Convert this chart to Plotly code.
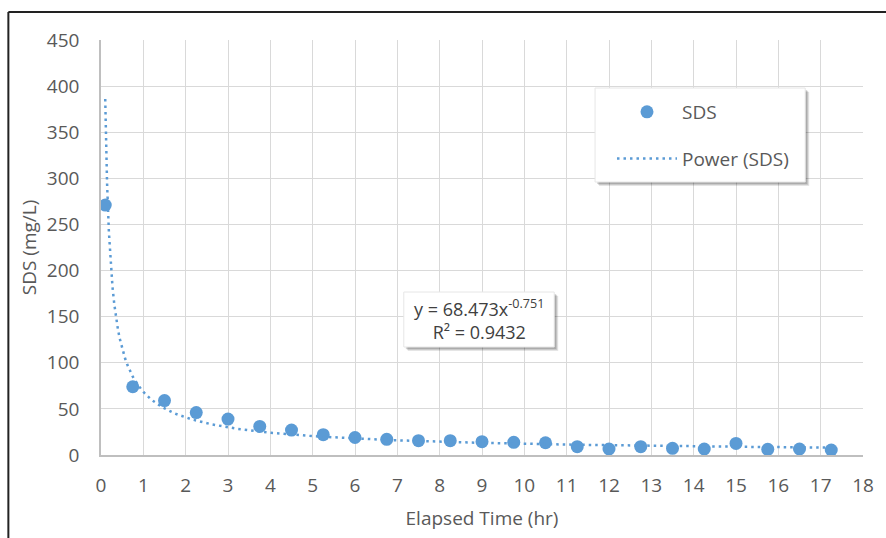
import numpy as np
import plotly.graph_objects as go

# ---- data ----
time_hr = [0.1, 0.75, 1.5, 2.25, 3.0, 3.75, 4.5, 5.25, 6.0, 6.75, 7.5, 8.25,
           9.0, 9.75, 10.5, 11.25, 12.0, 12.75, 13.5, 14.25, 15.0, 15.75, 16.5, 17.25]
sds_mgL = [271, 74, 59, 46, 39, 31, 27, 22, 19, 17, 15.5, 15.5,
           14.5, 13.7, 13.3, 9, 6.5, 9, 7.2, 6.5, 12.6, 6.1, 6.5, 5.4]

# power trendline coefficients (as displayed on chart)
fit_a = 68.473
fit_b = -0.751
fit_r2 = 0.9432

x_ticks = list(range(0, 19))
y_ticks = list(range(0, 451, 50))

BLUE = "#5B9BD5"
GRAY_TXT = "#595959"
FONT = "Open Sans"
FS = 19

W, H = 886, 538
L, R, T, B = 101, 20, 40, 83
pw, ph = W - L - R, H - T - B


def px2paper_x(px):
    return (px - L) / pw


def px2paper_y(py):
    return (H - B - py) / ph


fit_x = np.linspace(min(time_hr), max(time_hr), 400)
fit_y = fit_a * fit_x ** fit_b

fig = go.Figure()
fig.add_trace(go.Scatter(
    x=time_hr, y=sds_mgL, mode="markers", name="SDS", legendgroup="a",
    marker=dict(color=BLUE, size=13, line=dict(width=0)),
))
fig.add_trace(go.Scatter(
    x=fit_x, y=fit_y, mode="lines", name="Power (SDS)", legendgroup="b",
    line=dict(color=BLUE, width=2.5, dash="2.5px,4px"),
))

shapes = []
# chart outer border (top and left edges visible)
shapes.append(dict(type="line", xref="paper", yref="paper",
                   x0=px2paper_x(8), x1=px2paper_x(900), y0=px2paper_y(12), y1=px2paper_y(12),
                   line=dict(color="#222222", width=2)))
shapes.append(dict(type="line", xref="paper", yref="paper",
                   x0=px2paper_x(8), x1=px2paper_x(8), y0=px2paper_y(12), y1=px2paper_y(545),
                   line=dict(color="#222222", width=2)))

# legend box with shadow
lx0, lx1, ly0, ly1 = 597, 808, 88, 182
for off, col in [(4, "rgba(0,0,0,0.10)"), (3, "rgba(0,0,0,0.12)"), (2, "rgba(0,0,0,0.15)")]:
    shapes.append(dict(type="rect", xref="paper", yref="paper", layer="above",
                       x0=px2paper_x(lx0 + off), x1=px2paper_x(lx1 + off),
                       y0=px2paper_y(ly0 + off), y1=px2paper_y(ly1 + off),
                       line=dict(width=0), fillcolor=col))
shapes.append(dict(type="rect", xref="paper", yref="paper", layer="above",
                   x0=px2paper_x(lx0), x1=px2paper_x(lx1),
                   y0=px2paper_y(ly0), y1=px2paper_y(ly1),
                   line=dict(color="#e6e6e6", width=1), fillcolor="white"))

# equation box with shadow
ax0, ax1, ay0, ay1 = 405, 556, 292, 347
for off, col in [(4, "rgba(0,0,0,0.10)"), (3, "rgba(0,0,0,0.12)"), (2, "rgba(0,0,0,0.15)")]:
    shapes.append(dict(type="rect", xref="paper", yref="paper", layer="above",
                       x0=px2paper_x(ax0 + off), x1=px2paper_x(ax1 + off),
                       y0=px2paper_y(ay0 + off), y1=px2paper_y(ay1 + off),
                       line=dict(width=0), fillcolor=col))
shapes.append(dict(type="rect", xref="paper", yref="paper", layer="above",
                   x0=px2paper_x(ax0), x1=px2paper_x(ax1),
                   y0=px2paper_y(ay0), y1=px2paper_y(ay1),
                   line=dict(color="#e6e6e6", width=1), fillcolor="white"))

annotations = [dict(
    xref="paper", yref="paper",
    x=px2paper_x((ax0 + ax1) / 2), y=px2paper_y((ay0 + ay1) / 2),
    xanchor="center", yanchor="middle", showarrow=False, align="center",
    text=f"y = {fit_a}x<sup>{fit_b}</sup><br>R² = {fit_r2}",
    font=dict(family=FONT, size=18, color="#404040"),
)]

fig.update_layout(
    width=W, height=H,
    margin=dict(l=L, r=R, t=T, b=B),
    paper_bgcolor="white", plot_bgcolor="white",
    font=dict(family=FONT, size=FS, color=GRAY_TXT),
    shapes=shapes,
    annotations=annotations,
    showlegend=True,
    legend=dict(
        x=px2paper_x(lx0 + 17), y=px2paper_y(ly0 + 5), xanchor="left", yanchor="top",
        bgcolor="rgba(0,0,0,0)", borderwidth=0,
        font=dict(family=FONT, size=FS, color=GRAY_TXT),
        tracegroupgap=19, itemwidth=60,
    ),
    xaxis=dict(
        range=[0, 18], tickvals=x_ticks, ticktext=[str(v) for v in x_ticks],
        showgrid=True, gridcolor="#d9d9d9", gridwidth=1,
        showline=True, linecolor="#bfbfbf", linewidth=1.5, mirror=False,
        zeroline=False, ticks="", ticklabelstandoff=12,
        title=dict(text="Elapsed Time (hr)", standoff=15,
                   font=dict(family=FONT, size=FS, color=GRAY_TXT)),
        tickfont=dict(family=FONT, size=FS, color=GRAY_TXT),
    ),
    yaxis=dict(
        range=[0, 450], tickvals=y_ticks, ticktext=[str(v) for v in y_ticks],
        showgrid=True, gridcolor="#d9d9d9", gridwidth=1,
        showline=True, linecolor="#bfbfbf", linewidth=1.5, mirror=False,
        zeroline=False, ticks="", ticklabelstandoff=16,
        title=dict(text="SDS (mg/L)", standoff=5,
                   font=dict(family=FONT, size=FS, color=GRAY_TXT)),
        tickfont=dict(family=FONT, size=FS, color=GRAY_TXT),
    ),
)

fig.write_html("out.html")
